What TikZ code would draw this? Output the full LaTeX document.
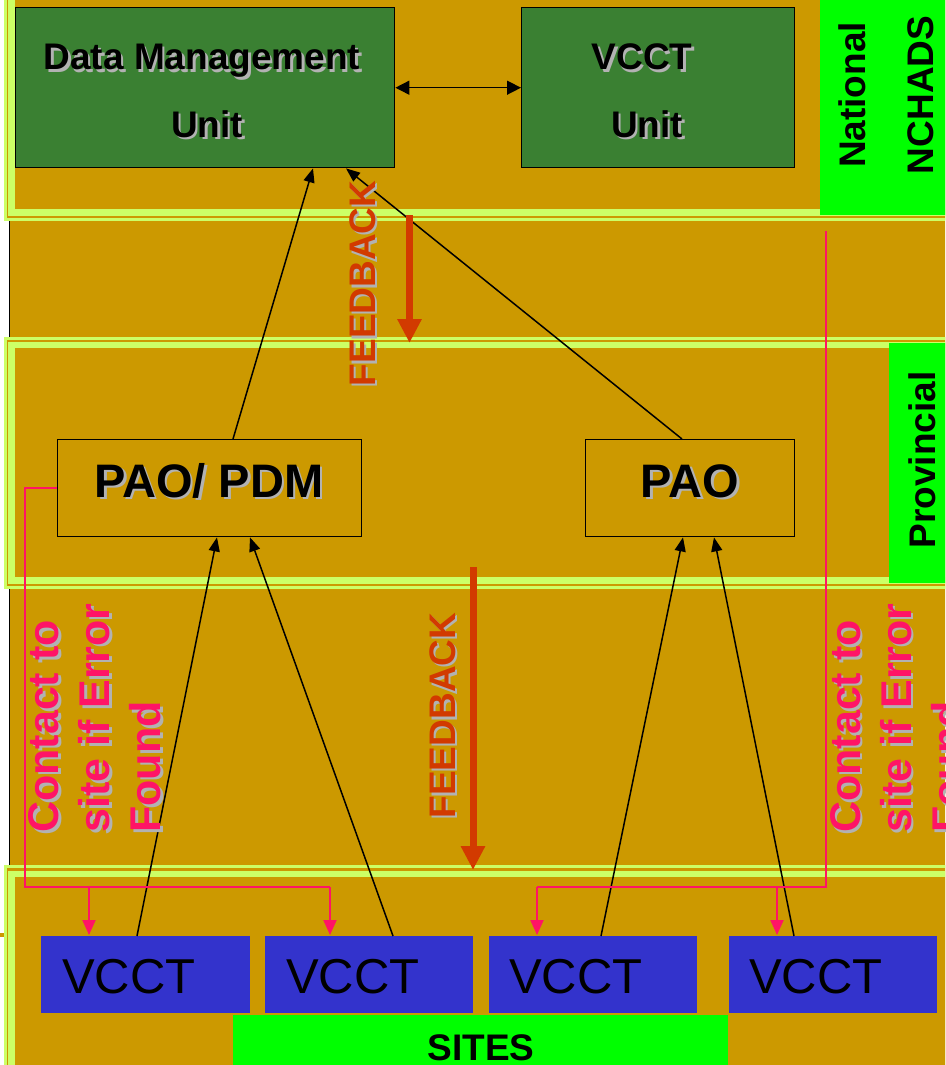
\documentclass[tikz,border=0pt]{standalone}
\usepackage{fontspec}
\setmainfont{Liberation Sans}
\usetikzlibrary{arrows.meta,calc}
\definecolor{bgor}{RGB}{204,153,0}
\definecolor{lgreen}{RGB}{204,255,102}
\definecolor{bgreen}{RGB}{0,255,0}
\definecolor{dgreen}{RGB}{58,128,50}
\definecolor{vblue}{RGB}{51,51,204}
\definecolor{fbred}{RGB}{210,58,0}
\definecolor{pinkc}{RGB}{255,20,102}
\definecolor{shade}{RGB}{178,178,178}
\newcommand{\shtxt}[5]{%
  \node[#3, text=#4] (#1-sh) at ($#2+(2.5,2.5)$) {#5};
  \node[#3] (#1) at #2 {#5};}
\begin{document}
\begin{tikzpicture}[x=1pt,y=-1pt,
  btext/.style={font=\bfseries\fontsize{37}{37}\selectfont, inner sep=0pt},
  bigtext/.style={font=\bfseries\fontsize{47}{47}\selectfont, inner sep=0pt},
  ctext/.style={font=\bfseries\fontsize{43}{51}\selectfont, inner sep=0pt, text=pinkc, align=left, rotate=90, anchor=north west},
  fbtext/.style={btext, text=fbred, rotate=90, anchor=base},
  vtext/.style={font=\fontsize{49}{49}\selectfont, inner sep=0pt, anchor=base west},
  topbox/.style={draw=black, line width=1.4pt, fill=dgreen, anchor=north west, minimum height=160pt, inner sep=0pt},
  pbox/.style={draw=black, line width=1.4pt, anchor=north west, minimum height=97pt, inner sep=0pt},
  vbox/.style={fill=vblue, anchor=north west, minimum height=77pt, minimum width=208pt, inner sep=0pt},
  labbox/.style={fill=bgreen, anchor=north west, inner sep=0pt},
  blarr/.style={draw=black, line width=1.5pt, -{Triangle[length=14pt,width=11pt]}},
  fbarr/.style={draw=fbred, line width=7pt, -{Triangle[length=24pt,width=23pt]}},
  pinkln/.style={draw=pinkc, line width=2pt},
  pinkarr/.style={pinkln, -{Triangle[length=15pt,width=13pt]}}
]
\clip (0,0) rectangle (945,1065);
\fill[white] (0,0) rectangle (945,1065);
\fill[bgor] (9,0) rectangle (950,1070);
\draw[black, line width=1.6pt] (9.3,-5) -- (9.3,1070);
\fill[bgor] (0,933) rectangle (7,937);

% band 1 (national)
\fill[bgor] (4,-5) rectangle (950,220);
\draw[lgreen, line width=2.6pt] (5.5,-5) -- (5.5,219.7) -- (950,219.7);
\draw[lgreen, line width=6.8pt] (11.7,-5) -- (11.7,212.6) -- (950,212.6);
% band 3 (provincial)
\fill[bgor] (4,337) rectangle (950,589);
\draw[lgreen, line width=2.6pt] (950,338.3) -- (5.5,338.3) -- (5.5,587.7) -- (950,587.7);
\draw[lgreen, line width=6.8pt] (950,345) -- (11.7,345) -- (11.7,580.8) -- (950,580.8);
% band 5 (sites)
\fill[bgor] (4,865) rectangle (950,1070);
\draw[lgreen, line width=2.6pt] (950,866.5) -- (5.5,866.5) -- (5.5,1070);
\draw[lgreen, line width=6.8pt] (950,874) -- (11.7,874) -- (11.7,1070);

% label boxes
\node[labbox, minimum width=130pt, minimum height=215pt] (natbox) at (820,0) {};
\node[labbox, minimum width=60pt, minimum height=240pt] (provbox) at (889,343) {};
\node[labbox, minimum width=495pt, minimum height=55pt] (sitesbox) at (233,1015) {};

% boxes
\node[topbox, minimum width=379pt] (dmu) at (15,7) {};
\node[topbox, minimum width=273pt] (vu) at (521,7) {};
\node[pbox, minimum width=304pt] (pdm) at (57,439) {};
\node[pbox, minimum width=209pt] (pao) at (585,439) {};
\node[vbox, minimum width=209pt] (v1) at (41,936) {};
\node[vbox] (v2) at (265,936) {};
\node[vbox] (v3) at (489,936) {};
\node[vbox] (v4) at (729,936) {};

% black arrows
\draw[blarr, {Triangle[length=14pt,width=14pt]}-{Triangle[length=14pt,width=14pt]}] (dmu.east) -- (vu.west);
\draw[blarr] ([xshift=176pt]pdm.north west) -- ([xshift=298pt]dmu.south west);
\draw[blarr] ([xshift=97pt]pao.north west) -- ([xshift=331pt]dmu.south west);
\draw[blarr] ([xshift=96pt]v1.north west) -- ([xshift=160pt]pdm.south west);
\draw[blarr] ([xshift=128pt]v2.north west) -- ([xshift=193pt]pdm.south west);
\draw[blarr] ([xshift=112pt]v3.north west) -- ([xshift=98pt]pao.south west);
\draw[blarr] ([xshift=65pt]v4.north west) -- ([xshift=129pt]pao.south west);

% feedback arrows
\coordinate (fb1a) at (409.5,215);
\coordinate (fb1b) at (409.5,343);
\coordinate (fb2a) at (473,567);
\coordinate (fb2b) at (473,870);
\draw[fbarr] (fb1a) -- (fb1b);
\draw[fbarr] (fb2a) -- (fb2b);

% pink contact lines
\coordinate (lcorner) at (25,887);
\coordinate (lend) at (330,887);
\draw[pinkln] (pdm.west) -| (lcorner) -- (lend);
\draw[pinkarr] ([xshift=48pt]v1.north west |- lcorner) -- ([xshift=48pt,yshift=1pt]v1.north west);
\draw[pinkarr] ([xshift=65pt]v2.north west |- lcorner) -- ([xshift=65pt,yshift=1pt]v2.north west);
\coordinate (rtop) at (826,231);
\coordinate (rcorner) at (826,887);
\coordinate (rend) at (537,887);
\draw[pinkln] (rtop) -- (rcorner) -- (rend);
\draw[pinkarr] ([xshift=48pt]v3.north west |- rcorner) -- ([xshift=48pt,yshift=1pt]v3.north west);
\draw[pinkarr] ([xshift=48pt]v4.north west |- rcorner) -- ([xshift=48pt,yshift=1pt]v4.north west);

% texts
\shtxt{dmut1}{(202,70)}{btext,anchor=base}{shade}{Data Management}
\shtxt{dmut2}{(207,137)}{btext,anchor=base}{shade}{Unit}
\shtxt{vut1}{(642,70)}{btext,anchor=base}{shade}{VCCT}
\shtxt{vut2}{(647,137)}{btext,anchor=base}{shade}{Unit}
\shtxt{pdmt}{(209,497)}{bigtext,anchor=base}{shade}{PAO/ PDM}
\shtxt{paot}{(690,497)}{bigtext,anchor=base}{shade}{PAO}
\shtxt{fbt1}{(375,283.5)}{fbtext}{shade}{FEEDBACK}
\shtxt{fbt2}{(455,715.5)}{fbtext}{shade}{FEEDBACK}
\shtxt{ctl}{(28.3,833)}{ctext}{shade}{Contact to\\site if Error\\Found}
\shtxt{ctr}{(830,833)}{ctext}{shade}{Contact to\\site if Error\\Found}

\node[btext, rotate=90, anchor=base] (natt) at (865,95) {National};
\node[btext, rotate=90, anchor=base] (ncht) at (933,95) {NCHADS};
\node[btext, rotate=90, anchor=base] (provt) at (935,460) {Provincial};
\node[btext, anchor=base] (sitest) at (481,1060) {SITES};

\node[vtext] (v1t) at (62,993) {VCCT};
\node[vtext] (v2t) at (286,993) {VCCT};
\node[vtext] (v3t) at (509,993) {VCCT};
\node[vtext] (v4t) at (749,993) {VCCT};
\end{tikzpicture}
\end{document}
